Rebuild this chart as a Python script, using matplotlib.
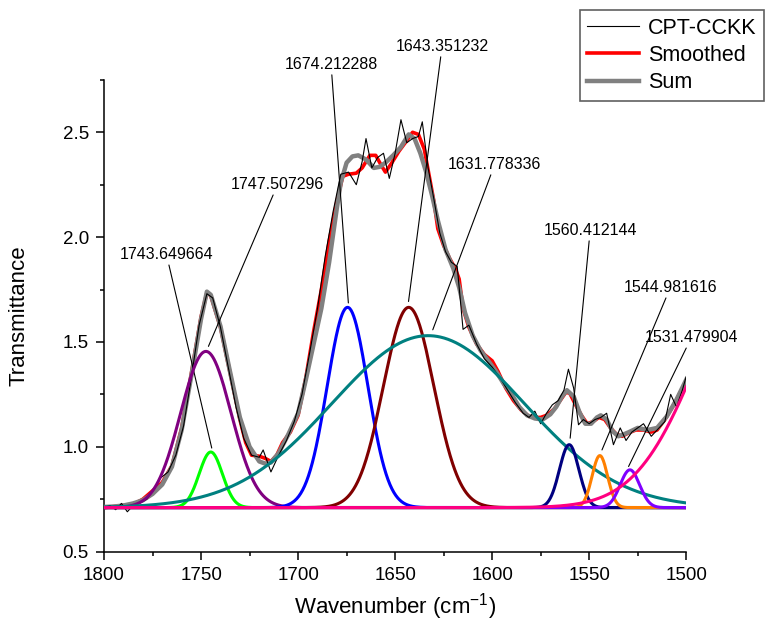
import numpy as np
import matplotlib.pyplot as plt
from matplotlib.ticker import MultipleLocator, FormatStrFormatter

plt.rcParams['font.family'] = ['Liberation Sans', 'DejaVu Sans']
plt.rcParams['mathtext.fontset'] = 'custom'
plt.rcParams['mathtext.rm'] = 'Liberation Sans'

# raw spectrum (CPT-CCKK)
raw_wn = [1800, 1797, 1794, 1791, 1788, 1785, 1782, 1778, 1774, 1771, 1767, 1763,
          1759, 1755, 1751, 1747, 1744, 1740, 1736, 1732, 1728, 1724, 1720, 1718,
          1714, 1710, 1706, 1702, 1698, 1694, 1690, 1686, 1682, 1678, 1674, 1670,
          1667, 1665, 1662, 1659, 1656, 1653, 1650, 1647, 1644, 1641, 1638, 1636,
          1633, 1630, 1627, 1624, 1621, 1618, 1615, 1612, 1608, 1604, 1600, 1596,
          1592, 1588, 1584, 1581, 1578, 1575, 1572, 1569, 1566, 1563, 1560.7, 1558,
          1555.5, 1553, 1550, 1547, 1544, 1541, 1537.5, 1534, 1531, 1528, 1525, 1522,
          1518, 1515, 1511, 1508, 1505, 1502, 1500]
raw_val = [0.71, 0.72, 0.70, 0.73, 0.69, 0.72, 0.73, 0.75, 0.80, 0.85, 0.88, 0.96,
           1.10, 1.33, 1.58, 1.73, 1.71, 1.57, 1.38, 1.19, 1.04, 0.96, 0.95, 0.985,
           0.88, 0.96, 1.03, 1.12, 1.25, 1.45, 1.66, 1.91, 2.12, 2.30, 2.31, 2.25,
           2.36, 2.47, 2.33, 2.38, 2.40, 2.28, 2.40, 2.56, 2.45, 2.47, 2.48, 2.55,
           2.33, 2.18, 2.02, 1.93, 1.88, 1.86, 1.56, 1.58, 1.49, 1.42, 1.38, 1.33,
           1.27, 1.21, 1.16, 1.14, 1.17, 1.11, 1.16, 1.20, 1.22, 1.27, 1.37, 1.28,
           1.105, 1.13, 1.11, 1.13, 1.14, 1.16, 1.01, 1.09, 1.03, 1.07, 1.09, 1.11,
           1.05, 1.08, 1.12, 1.25, 1.19, 1.27, 1.335]

# smoothed spectrum
smooth_wn = [1800, 1795, 1790, 1785, 1780, 1775, 1770, 1765, 1760, 1755, 1750, 1747,
             1745, 1740, 1735, 1730, 1727, 1724, 1720, 1717, 1714, 1711, 1708, 1704,
             1700, 1696, 1692, 1688, 1684, 1680, 1677, 1674, 1670, 1667, 1663, 1660,
             1657, 1655, 1652, 1648, 1644, 1641, 1638, 1635, 1632.8, 1630, 1628, 1625,
             1622, 1619, 1617, 1615, 1612, 1608, 1604, 1600, 1597, 1593, 1589, 1585,
             1581, 1578, 1575, 1572, 1568, 1565, 1562, 1560, 1557, 1554, 1551, 1548,
             1545, 1542, 1539, 1536, 1533, 1530, 1526, 1522, 1518, 1515, 1511, 1507,
             1503, 1500]
smooth_val = [0.71, 0.715, 0.72, 0.725, 0.75, 0.79, 0.83, 0.91, 1.09, 1.35, 1.62, 1.735,
              1.72, 1.57, 1.35, 1.13, 1.02, 0.96, 0.955, 0.945, 0.93, 0.96, 1.02, 1.07,
              1.15, 1.33, 1.55, 1.75, 1.98, 2.17, 2.29, 2.30, 2.305, 2.33, 2.39, 2.39,
              2.34, 2.31, 2.35, 2.41, 2.46, 2.50, 2.49, 2.42, 2.31, 2.17, 2.04, 1.96,
              1.90, 1.85, 1.80, 1.66, 1.57, 1.49, 1.44, 1.41, 1.36, 1.28, 1.22, 1.175,
              1.145, 1.14, 1.14, 1.15, 1.18, 1.22, 1.26, 1.255, 1.20, 1.15, 1.11, 1.12,
              1.14, 1.13, 1.09, 1.06, 1.05, 1.065, 1.08, 1.08, 1.07, 1.08, 1.13, 1.19,
              1.26, 1.31]

# sum of fitted peaks
sum_wn = [1800, 1795, 1790, 1785, 1780, 1775, 1770, 1765, 1760, 1755, 1750, 1747,
          1745, 1740, 1735, 1730, 1725, 1720, 1717, 1714, 1710, 1705, 1700, 1696,
          1692, 1688, 1684, 1680, 1678, 1675, 1672, 1669, 1665, 1661, 1658, 1655,
          1651, 1647, 1643, 1640, 1637, 1634, 1631, 1628, 1624, 1620, 1617, 1614,
          1610, 1606, 1602, 1598, 1594, 1590, 1586, 1582, 1578, 1574, 1570, 1567,
          1564, 1561.5, 1558, 1555, 1552, 1549, 1546, 1544, 1541, 1538, 1535, 1532,
          1529.5, 1525, 1520, 1515, 1510, 1505, 1500]
sum_val = [0.713, 0.715, 0.72, 0.73, 0.745, 0.775, 0.82, 0.905, 1.08, 1.34, 1.61, 1.74,
           1.725, 1.575, 1.355, 1.14, 1.0, 0.93, 0.92, 0.925, 0.97, 1.06, 1.16, 1.32,
           1.49, 1.66, 1.88, 2.14, 2.26, 2.355, 2.385, 2.39, 2.37, 2.33, 2.335, 2.355,
           2.39, 2.43, 2.49, 2.47, 2.40, 2.31, 2.20, 2.08, 1.94, 1.85, 1.76, 1.64,
           1.53, 1.46, 1.41, 1.36, 1.30, 1.25, 1.19, 1.15, 1.135, 1.13, 1.155, 1.19,
           1.24, 1.27, 1.24, 1.165, 1.11, 1.11, 1.14, 1.15, 1.13, 1.075, 1.05, 1.06,
           1.07, 1.09, 1.08, 1.09, 1.145, 1.225, 1.32]

# fitted gaussian peaks
baseline = 0.71
peak_center = [1745.0, 1747.5, 1674.5, 1643.0, 1633.0, 1560.3, 1544.5, 1529.0, 1458.0]
peak_height = [0.265, 0.745, 0.955, 0.955, 0.82, 0.30, 0.248, 0.18, 1.25]
peak_sigma = [6.0, 13.0, 10.5, 13.0, 49.5, 5.0, 4.0, 5.0, 33.7]
peak_color = ['#00ff00', '#800080', '#0000ff', '#800000', '#008080',
              '#000080', '#ff8000', '#8000ff', '#ff0080']

# peak labels
label_text = ['1743.649664', '1747.507296', '1674.212288', '1643.351232',
              '1631.778336', '1560.412144', '1544.981616', '1531.479904']
label_tip = [(1744.5, 0.994), (1746.2, 1.479), (1674.1, 1.686), (1643.1, 1.693),
             (1630.6, 1.558), (1559.8, 1.041), (1543.4, 0.985), (1529.7, 0.906)]
label_pos = [(1767.8, 1.916), (1710.6, 2.25), (1683.0, 2.823), (1625.8, 2.909),
             (1598.7, 2.346), (1549.5, 2.031), (1508.2, 1.759), (1497.4, 1.52)]

fig = plt.figure(figsize=(7.65, 6.24), dpi=100)
ax = fig.add_axes([0.136, 0.116, 0.761, 0.756])

ax.plot(smooth_wn, smooth_val, color='red', lw=2.6, zorder=2, label='Smoothed')
ax.plot(sum_wn, sum_val, color='#808080', lw=3.2, zorder=3, label='Sum')
ax.plot(raw_wn, raw_val, color='black', lw=0.8, zorder=4, label='CPT-CCKK')

x = np.linspace(1500, 1800, 901)
for c, h, s, col in zip(peak_center, peak_height, peak_sigma, peak_color):
    y = baseline + h * np.exp(-(x - c) ** 2 / (2 * s ** 2))
    ax.plot(x, y, color=col, lw=2.2, zorder=5)

for txt, tip, pos in zip(label_text, label_tip, label_pos):
    ax.annotate(txt, xy=tip, xytext=pos, ha='center', va='center', fontsize=11.5,
                annotation_clip=False,
                arrowprops=dict(arrowstyle='-', color='black', lw=0.8,
                                shrinkA=0, shrinkB=0))

ax.set_xlim(1800, 1500)
ax.set_ylim(0.5, 2.75)
ax.xaxis.set_major_locator(MultipleLocator(50))
ax.xaxis.set_minor_locator(MultipleLocator(25))
ax.yaxis.set_major_locator(MultipleLocator(0.5))
ax.yaxis.set_minor_locator(MultipleLocator(0.25))
ax.yaxis.set_major_formatter(FormatStrFormatter('%.1f'))
ax.tick_params(which='major', direction='out', length=6, width=1.1, labelsize=13.5, pad=5)
ax.tick_params(which='minor', direction='out', length=3, width=1.1)
for side in ['top', 'right']:
    ax.spines[side].set_visible(False)
for side in ['left', 'bottom']:
    ax.spines[side].set_linewidth(1.1)

ax.set_xlabel('Wavenumber (cm$^{-1}$)', fontsize=16, labelpad=5)
ax.set_ylabel('Transmittance', fontsize=16, labelpad=24)

h, l = ax.get_legend_handles_labels()
order = [2, 0, 1]
leg = fig.legend([h[i] for i in order], [l[i] for i in order], loc='upper left',
                 bbox_to_anchor=(0.758, 0.984), fontsize=15.5, frameon=True,
                 fancybox=False, framealpha=1, edgecolor='#606060',
                 handlelength=2.4, handletextpad=0.4, labelspacing=0.3,
                 borderpad=0.35, borderaxespad=0)
leg.get_frame().set_linewidth(1.2)

fig.savefig('out.png', dpi=100)
